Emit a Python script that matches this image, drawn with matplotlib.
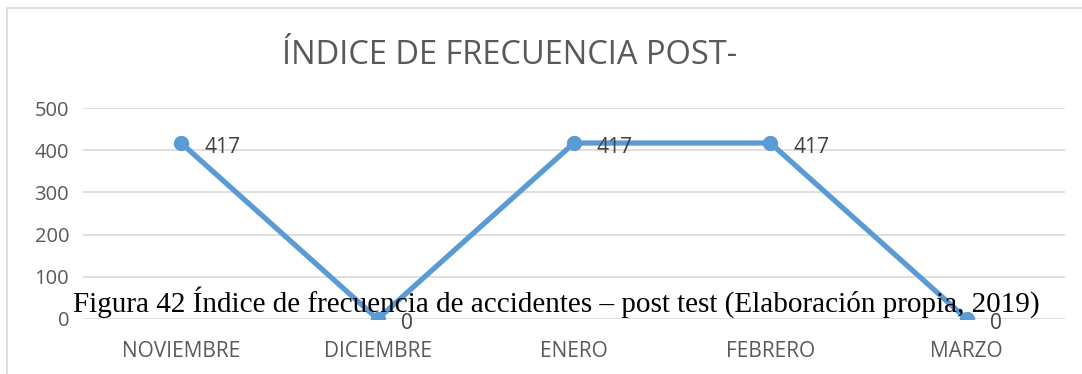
import matplotlib.pyplot as plt
from matplotlib.patches import Rectangle

meses = ["NOVIEMBRE", "DICIEMBRE", "ENERO", "FEBRERO", "MARZO"]
indice = [417, 0, 417, 417, 0]
y_ticks = [0, 100, 200, 300, 400, 500]

W, H = 1082, 374
fig = plt.figure(figsize=(W / 100, H / 100), dpi=100)

# chart frame (cut at right and bottom)
fig.patches.append(Rectangle((7 / W, -0.1), 1.2, 1 - 8 / H + 0.1, transform=fig.transFigure,
                             fill=False, edgecolor="#D9D9D9", lw=1.2))

ax = fig.add_axes([83 / W, 1 - 319 / H, (1065 - 83) / W, (319 - 108) / H])
x = list(range(len(meses)))
ax.plot(x, indice, color="#5B9BD5", lw=3.8, marker="o", markersize=10, zorder=3)
for xi, v in zip(x, indice):
    ax.annotate(str(v), (xi, v), xytext=(16.5, -3.5), textcoords="offset points",
                ha="left", va="center", fontsize=15, color="#404040",
                family="Open Sans", zorder=4)

ax.set_xlim(-0.5, len(meses) - 0.5)
ax.set_ylim(0, 500)
ax.set_yticks(y_ticks)
ax.set_xticks(x)
ax.set_xticklabels(meses)
ax.grid(axis="y", color="#D9D9D9", lw=1.2)
ax.set_axisbelow(True)
for s in ax.spines.values():
    s.set_visible(False)
ax.tick_params(length=0, labelsize=14.5, labelcolor="#595959", pad=10)
ax.tick_params(axis="x", labelsize=15, pad=16)
for lbl in ax.get_xticklabels() + ax.get_yticklabels():
    lbl.set_family("Open Sans")

fig.text(510 / W, 1 - 55 / H, "ÍNDICE DE FRECUENCIA POST-", ha="center", va="center",
         fontsize=23.5, color="#595959", family="Open Sans")

fig.text(556 / W, 1 - 302 / H,
         "Figura 42 Índice de frecuencia de accidentes – post test (Elaboración propia, 2019)",
         ha="center", va="center", fontsize=21, color="black", family="Liberation Serif",
         zorder=10)

fig.savefig("out.png", dpi=100)
